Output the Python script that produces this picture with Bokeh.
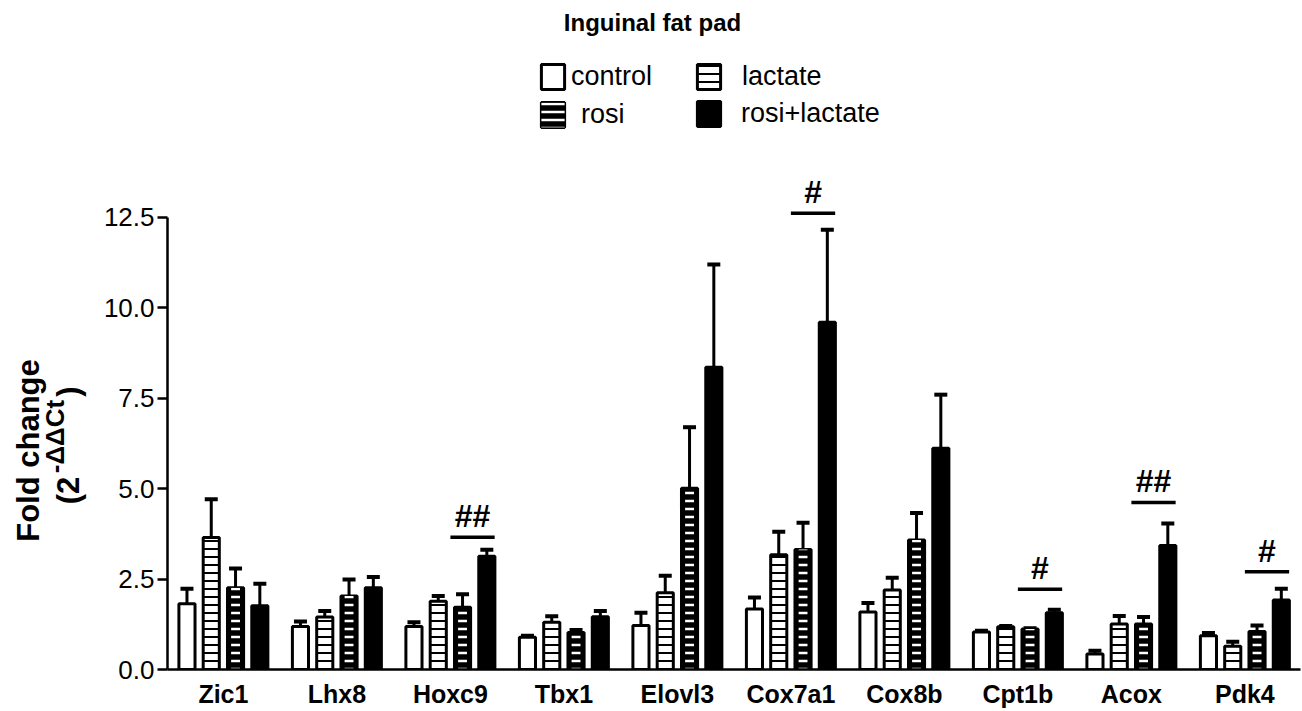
import math
import numpy as np
from bokeh.plotting import figure
from bokeh.layouts import row
from bokeh.models import (ColumnDataSource, Range1d, FixedTicker, NumeralTickFormatter,
                          Whisker, TeeHead, Legend, LegendItem, Label)
from bokeh.embed import file_html
from bokeh.resources import INLINE
from bokeh.core.properties import value

# ---------------- data ----------------
title_text = "Inguinal fat pad"
genes = ["Zic1", "Lhx8", "Hoxc9", "Tbx1", "Elovl3", "Cox7a1", "Cox8b", "Cpt1b", "Acox", "Pdk4"]
groups = ["control", "lactate", "rosi", "rosi+lactate"]

control_mean = [1.82, 1.19, 1.19, 0.89, 1.22, 1.67, 1.59, 1.04, 0.43, 0.93]
control_sem = [0.41, 0.14, 0.12, 0.04, 0.35, 0.32, 0.25, 0.03, 0.09, 0.08]
lactate_mean = [3.65, 1.45, 1.89, 1.31, 2.12, 3.17, 2.20, 1.18, 1.26, 0.64]
lactate_sem = [1.06, 0.17, 0.14, 0.16, 0.47, 0.64, 0.34, 0.02, 0.22, 0.13]
rosi_mean = [2.26, 2.03, 1.72, 1.02, 5.01, 3.32, 3.58, 1.12, 1.26, 1.05]
rosi_sem = [0.53, 0.46, 0.36, 0.07, 1.69, 0.74, 0.75, 0.02, 0.19, 0.17]
rosilac_mean = [1.76, 2.26, 3.13, 1.46, 8.36, 9.60, 6.12, 1.57, 3.43, 1.92]
rosilac_sem = [0.61, 0.30, 0.18, 0.16, 2.84, 2.56, 1.48, 0.08, 0.61, 0.31]

sig_gene = ["Hoxc9", "Cox7a1", "Cpt1b", "Acox", "Pdk4"]
sig_level = [3.66, 12.62, 2.22, 4.62, 2.70]
sig_marks = ["##", "#", "#", "##", "#"]

y_ticks = [0.0, 2.5, 5.0, 7.5, 10.0, 12.5]
y_label_main = "Fold change"
y_label_open = "(2"
y_label_sup = "-\u0394\u0394Ct"
y_label_close = ")"

# ---------------- style ----------------
FONT = "Liberation Sans"
W, H = 1302, 711
LEFT_W = 100
BOTTOM = 42
PITCH = 0.214
BW = 0.142
LW = 3
Y_END = 18.50
PX_PER_UNIT = (H - BOTTOM) / Y_END

p = figure(width=W - LEFT_W, height=H, output_backend="svg", toolbar_location=None, title=None,
           x_range=Range1d(-0.4925, 9.49), y_range=Range1d(0, Y_END),
           min_border_left=165 - LEFT_W, min_border_right=2, min_border_top=0,
           min_border_bottom=BOTTOM)
p.xgrid.visible = False
p.ygrid.visible = False
p.outline_line_color = None
p.background_fill_color = "white"

idx = np.arange(len(genes))
offsets = [-1.5 * PITCH, -0.5 * PITCH, 0.5 * PITCH, 1.5 * PITCH]
means = [control_mean, lactate_mean, rosi_mean, rosilac_mean]
sems = [control_sem, lactate_sem, rosi_sem, rosilac_sem]

srcs = []
for off, m, s in zip(offsets, means, sems):
    m = np.array(m)
    s = np.array(s)
    srcs.append(ColumnDataSource(dict(x=idx + off, top=m, upper=m + s)))

r_control = p.vbar(x="x", top="top", width=BW, bottom=0, source=srcs[0],
                   fill_color="white", line_color="black", line_width=LW)
r_lactate = p.vbar(x="x", top="top", width=BW, bottom=0, source=srcs[1],
                   fill_color="white", line_color="black", line_width=LW,
                   hatch_pattern="horizontal_line", hatch_color="black",
                   hatch_scale=8, hatch_weight=2)
r_rosi = p.vbar(x="x", top="top", width=BW, bottom=0, source=srcs[2],
                fill_color="black", line_color="black", line_width=LW)
r_rosi_in = p.vbar(x="x", top="top", width=BW * 0.55, bottom=0, source=srcs[2],
                   fill_alpha=0, line_alpha=0,
                   hatch_pattern="horizontal_line", hatch_color="white",
                   hatch_scale=8, hatch_weight=2.5)
r_rl = p.vbar(x="x", top="top", width=BW, bottom=0, source=srcs[3],
              fill_color="black", line_color="black", line_width=LW)

for s in srcs:
    w = Whisker(base="x", lower="top", upper="upper", source=s,
                line_color="black", line_width=3,
                upper_head=TeeHead(size=13, line_width=4, line_color="black"),
                lower_head=None)
    p.add_layout(w)

# significance bars
sig_x = np.array([genes.index(g) for g in sig_gene], dtype=float)
sig_y = np.array(sig_level)
sig_src = ColumnDataSource(dict(x0=sig_x, x1=sig_x + 0.39, xm=sig_x + 0.195,
                                y=sig_y, ty=sig_y + 21 / PX_PER_UNIT, t=sig_marks))
p.segment(x0="x0", x1="x1", y0="y", y1="y", source=sig_src, line_color="black", line_width=3.5)
p.text(x="xm", y="ty", text="t", source=sig_src, text_align="center",
       text_baseline="middle", text_font=value(FONT),
       text_font_size="32px", text_font_style="bold", text_color="black")

# axes
ya = p.yaxis[0]
ya.ticker = FixedTicker(ticks=y_ticks)
ya.formatter = NumeralTickFormatter(format="0.0")
ya.bounds = (0, 12.5)
ya.major_tick_out = 10
ya.major_tick_in = 0
ya.minor_tick_line_color = None
ya.axis_line_width = 2.5
ya.major_tick_line_width = 2.5
ya.major_label_text_font = FONT
ya.major_label_text_font_size = "26px"
ya.major_label_text_color = "black"
ya.major_label_standoff = 3

xa = p.xaxis[0]
xa.ticker = FixedTicker(ticks=list(range(len(genes))))
xa.major_label_overrides = {i: g for i, g in enumerate(genes)}
xa.major_tick_line_color = None
xa.minor_tick_line_color = None
xa.major_tick_out = 0
xa.major_tick_in = 0
xa.minor_tick_out = 0
xa.minor_tick_in = 0
xa.axis_line_width = 2.5
xa.major_label_text_font = FONT
xa.major_label_text_font_size = "25px"
xa.major_label_text_font_style = "bold"
xa.major_label_text_color = "black"
xa.major_label_standoff = 10

# legend entries, one per group, laid out 2 x 2
common = dict(glyph_width=29, glyph_height=31, padding=0, margin=0,
              border_line_alpha=0, background_fill_alpha=0,
              label_text_font=FONT, label_text_font_size="27px", label_text_color="black")
legend_specs = [
    (groups[0], [r_control], (371, 577), 4),
    (groups[1], [r_lactate], (527, 577), 19),
    (groups[2], [r_rosi, r_rosi_in], (371, 539), 14),
    (groups[3], [r_rl], (527, 540), 18),
]
for lbl, rends, loc, standoff in legend_specs:
    p.add_layout(Legend(items=[LegendItem(label=lbl, renderers=rends)],
                        location=loc, label_standoff=standoff, **common))

# title
p.add_layout(Label(x=485, y=647, x_units="screen", y_units="screen", text=title_text,
                   text_align="center", text_baseline="middle", text_font=FONT,
                   text_font_size="24px", text_font_style="bold", text_color="black"))

# y axis title panel (rotated, with superscript)
q = figure(width=LEFT_W, height=H, output_backend="svg", toolbar_location=None, title=None,
           x_range=Range1d(0, LEFT_W), y_range=Range1d(H - BOTTOM, 0),
           x_axis_type=None, y_axis_type=None,
           min_border_left=0, min_border_right=0, min_border_top=0, min_border_bottom=BOTTOM)
q.xgrid.visible = False
q.ygrid.visible = False
q.outline_line_color = None

ylab_src = ColumnDataSource(dict(
    x=[28, 68, 54, 68],
    y=[450, 490, 436, 391],
    t=[y_label_main, y_label_open, y_label_sup, y_label_close],
    s=["31px", "31px", "26px", "31px"],
))
q.text(x="x", y="y", text="t", source=ylab_src, angle=math.pi / 2,
       text_align="center", text_baseline="middle", text_font=value(FONT),
       text_font_size="s", text_font_style="bold", text_color="black")

layout = row(q, p, spacing=0)
open("out.html", "w").write(file_html(layout, INLINE))
